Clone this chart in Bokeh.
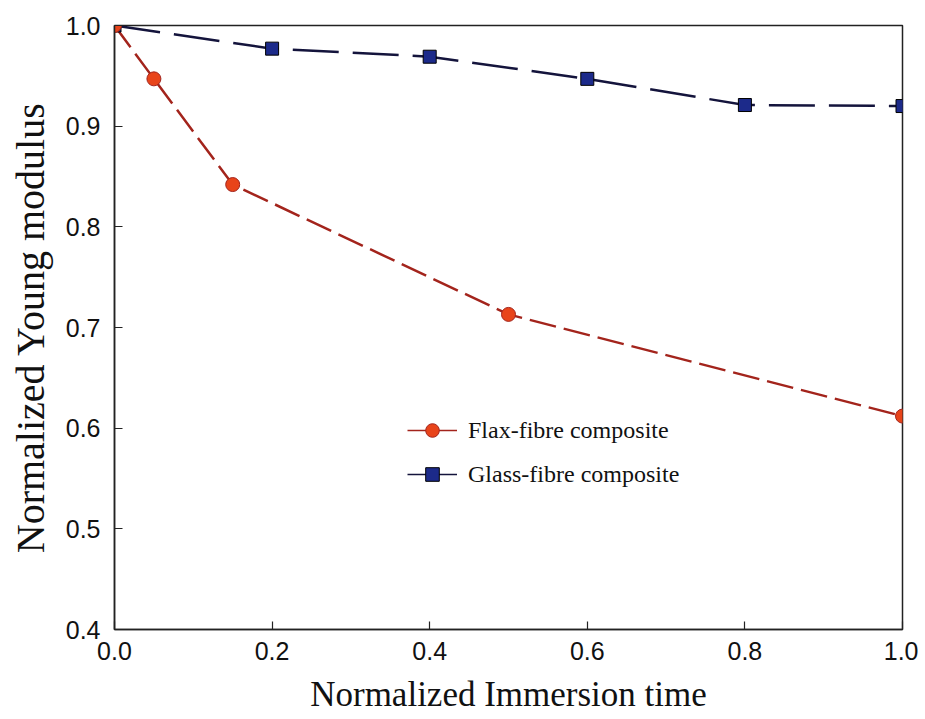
from bokeh.plotting import figure
from bokeh.models import FixedTicker, Legend, LegendItem, ColumnDataSource, Range1d, NumeralTickFormatter
from bokeh.embed import file_html
from bokeh.resources import INLINE

flax_x = [0.0, 0.05, 0.15, 0.5, 1.0]
flax_y = [1.0, 0.947, 0.842, 0.713, 0.612]
glass_x = [0.0, 0.2, 0.4, 0.6, 0.8, 1.0]
glass_y = [1.0, 0.977, 0.969, 0.947, 0.921, 0.920]
x_ticks = [0.0, 0.2, 0.4, 0.6, 0.8, 1.0]
y_ticks = [0.4, 0.5, 0.6, 0.7, 0.8, 0.9, 1.0]

FLAX_LINE = "#a3241c"
FLAX_FILL = "#e8441a"
GLASS_LINE = "#14143c"
GLASS_FILL = "#1c2a8a"

p = figure(width=918, height=719, output_backend="svg", toolbar_location=None,
           x_range=Range1d(0, 1.0), y_range=Range1d(0.4, 1.0),
           min_border_left=114, min_border_right=16, min_border_top=25, min_border_bottom=90)
p.frame_width = 788
p.frame_height = 604
p.grid.visible = False
p.outline_line_color = "#222222"
p.outline_line_width = 1.5
p.background_fill_color = "white"
p.border_fill_color = "white"

for ax in (p.xaxis[0], p.yaxis[0]):
    ax.major_tick_in = 8
    ax.major_tick_out = 0
    ax.minor_tick_line_color = None
    ax.axis_line_color = "#222222"
    ax.axis_line_width = 1.5
    ax.major_tick_line_color = "#222222"
    ax.major_tick_line_width = 1.2
    ax.major_label_text_font = "Liberation Sans"
    ax.major_label_text_font_size = "25px"
    ax.major_label_text_color = "#111111"
    ax.axis_label_text_font = "Liberation Serif"
    ax.axis_label_text_font_style = "normal"
    ax.axis_label_text_color = "#111111"
    ax.formatter = NumeralTickFormatter(format="0.0")

p.xaxis.ticker = FixedTicker(ticks=x_ticks)
p.yaxis.ticker = FixedTicker(ticks=y_ticks)
p.xaxis.axis_label = "Normalized Immersion time"
p.yaxis.axis_label = "Normalized Young modulus"
p.xaxis.axis_label_text_font_size = "35px"
p.yaxis.axis_label_text_font_size = "40px"
p.xaxis.major_label_standoff = 12
p.yaxis.major_label_standoff = 14
p.xaxis.axis_label_standoff = 12
p.yaxis.axis_label_standoff = 10

fs = ColumnDataSource(dict(x=flax_x, y=flax_y))
gs = ColumnDataSource(dict(x=glass_x, y=glass_y))

p.line("x", "y", source=gs, line_color=GLASS_LINE, line_width=2.5, line_dash="46 14")
p.line("x", "y", source=fs, line_color=FLAX_LINE, line_width=2.5, line_dash="27 8")
p.scatter("x", "y", source=gs, marker="square", size=13, fill_color=GLASS_FILL, line_color="#000000", line_width=1)
p.scatter("x", "y", source=fs, marker="circle", size=14, fill_color=FLAX_FILL, line_color=FLAX_LINE, line_width=1)

# legend-only renderers (solid lines); their single point is NaN so nothing is drawn in the plot
nan = float("nan")
hidden = ColumnDataSource(dict(x=[nan], y=[nan]))
lf = p.line("x", "y", source=hidden, line_color=FLAX_LINE, line_width=1.5)
mf = p.scatter("x", "y", source=hidden, marker="circle", size=14, fill_color=FLAX_FILL, line_color=FLAX_LINE)
lg = p.line("x", "y", source=hidden, line_color=GLASS_LINE, line_width=1.5)
mg = p.scatter("x", "y", source=hidden, marker="square", size=12, fill_color=GLASS_FILL, line_color="#000000")

legend = Legend(items=[LegendItem(label="Flax-fibre composite", renderers=[lf, mf]),
                       LegendItem(label="Glass-fibre composite", renderers=[lg, mg])],
                location=(293, 138), border_line_color=None, background_fill_alpha=0,
                label_text_font="Liberation Serif", label_text_font_size="24px",
                glyph_width=50, glyph_height=34, label_height=34, spacing=10, padding=0, margin=0,
                label_standoff=11, label_text_color="#111111")
p.add_layout(legend, "center")

open("out.html", "w").write(file_html(p, INLINE))
